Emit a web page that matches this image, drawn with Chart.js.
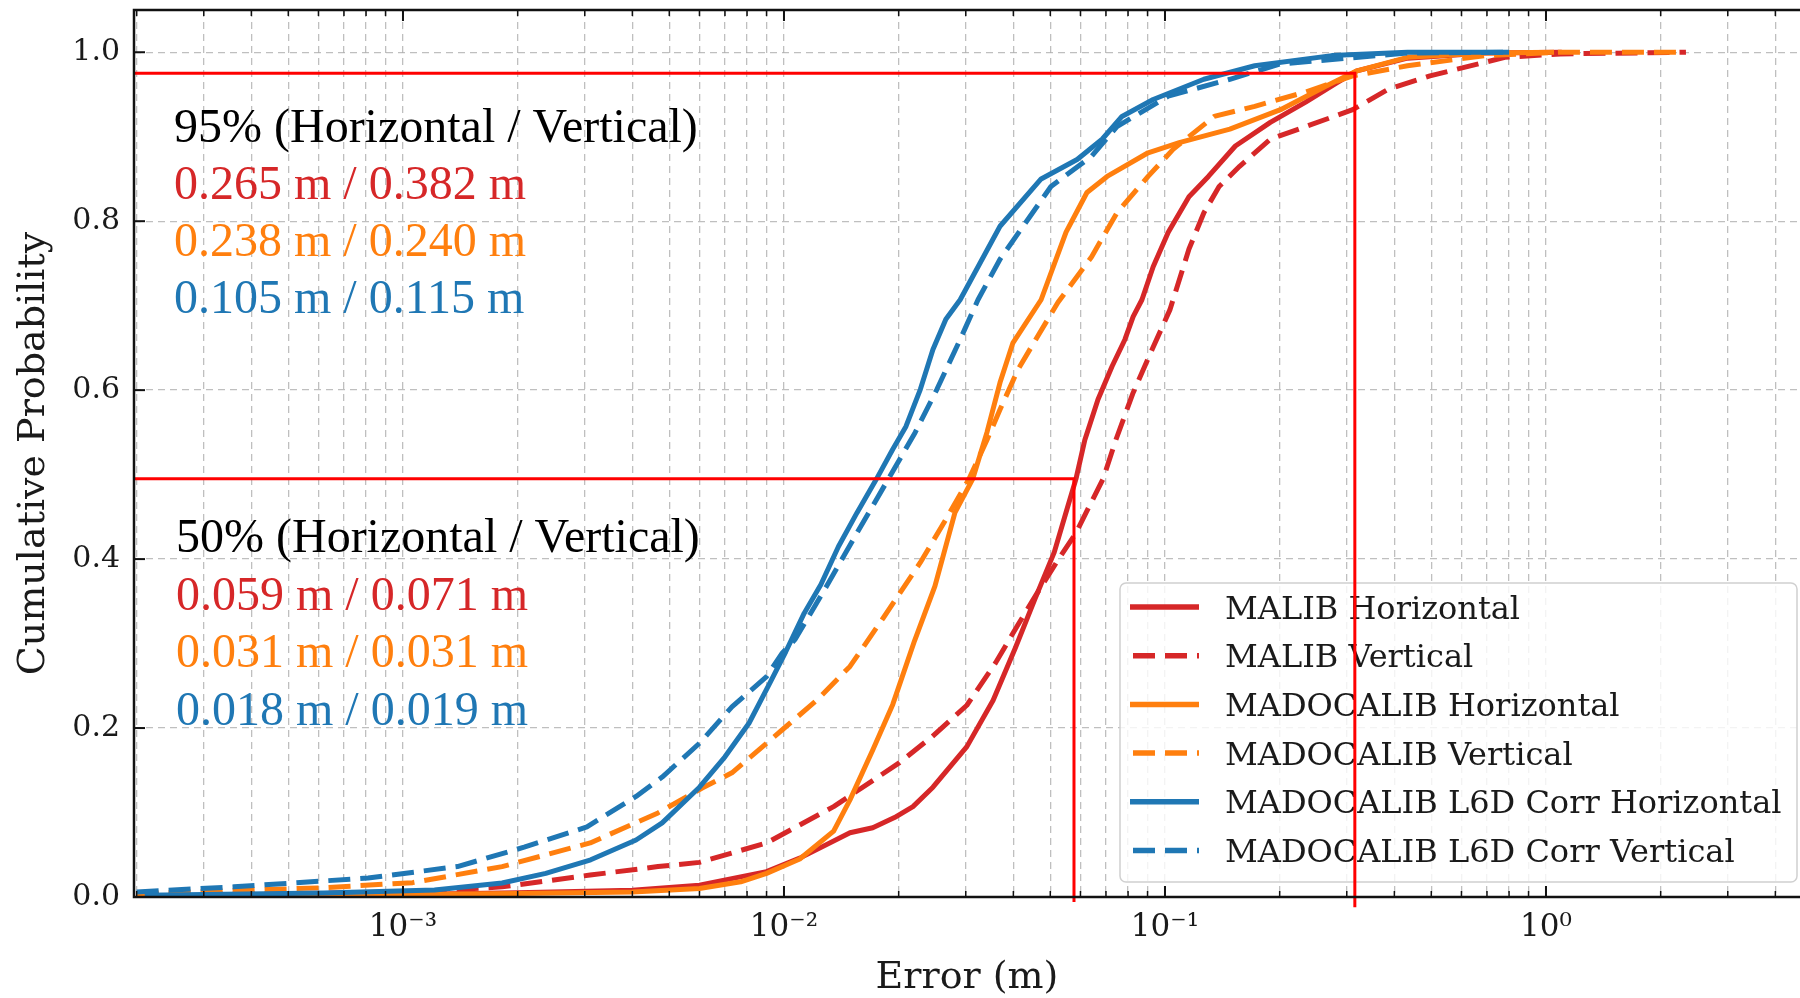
<!DOCTYPE html>
<html>
<head>
<meta charset="utf-8">
<script src="https://cdn.jsdelivr.net/npm/chart.js@4.4.0/dist/chart.umd.min.js"></script>
<style>
  html, body { margin: 0; padding: 0; background: #fff; overflow: hidden; }
  canvas { display: block; }
</style>
</head>
<body>
<canvas id="graficoCDF" width="1800" height="998"></canvas>
<script>
// ================= DATOS =================
const malibHorErr  = [2e-4, 5e-4, 1e-3, 2e-3, 4e-3, 6e-3, 9e-3, 0.011, 0.0149, 0.0171, 0.0195, 0.0218, 0.0246, 0.0302, 0.0354, 0.0405, 0.0455, 0.0512, 0.0553, 0.0584, 0.0616, 0.0667, 0.0726, 0.0785, 0.0825, 0.087, 0.0931, 0.102, 0.1156, 0.130, 0.153, 0.189, 0.234, 0.283, 0.319, 0.433, 0.69, 1.1];
const malibHorProb = [0.001, 0.002, 0.003, 0.005, 0.008, 0.014, 0.030, 0.046, 0.076, 0.082, 0.094, 0.107, 0.130, 0.178, 0.233, 0.295, 0.352, 0.408, 0.459, 0.495, 0.541, 0.589, 0.628, 0.660, 0.687, 0.707, 0.746, 0.787, 0.829, 0.853, 0.889, 0.917, 0.941, 0.964, 0.978, 0.993, 0.999, 1.0];

const malibVerErr  = [2e-4, 5e-4, 1.06e-3, 1.82e-3, 3.1e-3, 4.67e-3, 6e-3, 9e-3, 0.0135, 0.0201, 0.0245, 0.0302, 0.0359, 0.0411, 0.0458, 0.0524, 0.0584, 0.0632, 0.0688, 0.0743, 0.0825, 0.0925, 0.103, 0.1156, 0.1265, 0.1387, 0.157, 0.189, 0.234, 0.311, 0.385, 0.496, 0.78, 1.09, 2.33];
const malibVerProb = [0.003, 0.004, 0.006, 0.012, 0.026, 0.036, 0.041, 0.064, 0.107, 0.159, 0.190, 0.227, 0.277, 0.322, 0.357, 0.399, 0.431, 0.462, 0.495, 0.541, 0.597, 0.648, 0.695, 0.767, 0.810, 0.841, 0.865, 0.897, 0.912, 0.932, 0.956, 0.972, 0.994, 0.998, 1.0];

const madocaHorErr  = [2e-4, 5e-4, 1e-3, 2e-3, 4e-3, 6e-3, 7.7e-3, 9e-3, 0.011, 0.0135, 0.0149, 0.0171, 0.0193, 0.022, 0.0249, 0.0281, 0.0313, 0.0341, 0.0369, 0.0399, 0.0473, 0.055, 0.0624, 0.0705, 0.0903, 0.109, 0.148, 0.201, 0.265, 0.319, 0.433, 0.69, 1.05];
const madocaHorProb = [0.0, 0.001, 0.003, 0.004, 0.006, 0.010, 0.018, 0.028, 0.045, 0.078, 0.115, 0.174, 0.228, 0.303, 0.368, 0.455, 0.495, 0.550, 0.609, 0.656, 0.707, 0.787, 0.834, 0.853, 0.881, 0.893, 0.909, 0.932, 0.960, 0.978, 0.994, 0.999, 1.0];

const madocaVerErr  = [2e-4, 6.2e-4, 1.06e-3, 1.82e-3, 3.1e-3, 4.67e-3, 6.1e-3, 7.3e-3, 9.9e-3, 0.0122, 0.0149, 0.0182, 0.0228, 0.0266, 0.0306, 0.0341, 0.0369, 0.0411, 0.0458, 0.0524, 0.0642, 0.0748, 0.0903, 0.105, 0.1346, 0.172, 0.234, 0.311, 0.433, 0.69, 1.09, 2.33];
const madocaVerProb = [0.004, 0.011, 0.017, 0.036, 0.064, 0.0995, 0.129, 0.147, 0.198, 0.233, 0.273, 0.330, 0.396, 0.447, 0.495, 0.541, 0.577, 0.624, 0.660, 0.704, 0.758, 0.810, 0.853, 0.885, 0.924, 0.936, 0.953, 0.972, 0.984, 0.996, 1.0, 1.0];

const l6dHorErr  = [2.1e-4, 6.2e-4, 1.21e-3, 1.82e-3, 2.37e-3, 3.11e-3, 4.09e-3, 4.79e-3, 6e-3, 7e-3, 8.1e-3, 9.2e-3, 0.0101, 0.0113, 0.0125, 0.0139, 0.01555, 0.0175, 0.0193, 0.0209, 0.0228, 0.0246, 0.0266, 0.029, 0.0369, 0.0473, 0.0588, 0.0684, 0.0771, 0.0931, 0.1265, 0.172, 0.274, 0.433, 0.8];
const l6dHorProb = [0.002, 0.0047, 0.0083, 0.0166, 0.028, 0.044, 0.0675, 0.0877, 0.130, 0.166, 0.206, 0.254, 0.290, 0.336, 0.370, 0.415, 0.455, 0.495, 0.530, 0.557, 0.601, 0.648, 0.684, 0.707, 0.794, 0.850, 0.873, 0.897, 0.924, 0.944, 0.968, 0.984, 0.996, 1.0, 1.0];

const l6dVerErr  = [2e-4, 3.6e-4, 8.1e-4, 1.39e-3, 2.08e-3, 3.04e-3, 4.09e-3, 4.79e-3, 6e-3, 7.3e-3, 9e-3, 0.0099, 0.0107, 0.0129, 0.01555, 0.0188, 0.0221, 0.0252, 0.029, 0.0323, 0.0369, 0.0502, 0.0642, 0.0748, 0.102, 0.148, 0.2, 0.433, 0.8];
const l6dVerProb = [0.006, 0.012, 0.0225, 0.036, 0.059, 0.083, 0.119, 0.142, 0.182, 0.225, 0.261, 0.289, 0.305, 0.367, 0.431, 0.495, 0.550, 0.601, 0.660, 0.707, 0.755, 0.841, 0.877, 0.912, 0.948, 0.968, 0.986, 0.999, 1.0];

const etiquetas = ["MALIB Horizontal", "MALIB Vertical", "MADOCALIB Horizontal", "MADOCALIB Vertical", "MADOCALIB L6D Corr Horizontal", "MADOCALIB L6D Corr Vertical"];

// ejes
const xLimites = [1.968e-4, 4.642];
const yLimites = [0, 1.05];
const xDecadas = [-4, -3, -2, -1, 0];
const yTicks = [0, 0.2, 0.4, 0.6, 0.8, 1.0];

// lineas de referencia (95% y 50%)
const refProb = [0.975, 0.495];
const refErr = [0.315, 0.0577];
const refFondo = [-0.012, -0.006];

// textos
const texto95 = ["95% (Horizontal / Vertical)", "0.265 m / 0.382 m", "0.238 m / 0.240 m", "0.105 m / 0.115 m"];
const texto50 = ["50% (Horizontal / Vertical)", "0.059 m / 0.071 m", "0.031 m / 0.031 m", "0.018 m / 0.019 m"];

// ================= ESTILO =================
const ROJO = "#d62728", NARANJA = "#ff7f0e", AZUL = "#1f77b4";
const colorTexto = ["#000000", ROJO, NARANJA, AZUL];
const FUENTE = "'DejaVu Serif', serif";
const FUENTE_TXT = "'Liberation Serif', 'Times New Roman', serif";
const GRIS = "rgba(175,175,175,0.8)";
const DASH = [22, 10];

// ================= FUNCIONES UTILES =================
function puntos(xs, ys) {
  return xs.map((x, i) => ({ x, y: ys[i] }));
}

function serie(label, xs, ys, color, punteada, orden) {
  return {
    label,
    data: puntos(xs, ys),
    borderColor: color,
    backgroundColor: color,
    borderWidth: 5,
    borderDash: punteada ? DASH : [],
    borderJoinStyle: "round",
    pointRadius: 0,
    tension: 0,
    fill: false,
    order: orden,
    enLeyenda: true
  };
}

function refLinea(i) {
  return {
    label: "ref" + i,
    data: [
      { x: xLimites[0], y: refProb[i] },
      { x: refErr[i], y: refProb[i] },
      { x: refErr[i], y: refFondo[i] }
    ],
    borderColor: "#ff0000",
    borderWidth: 3,
    pointRadius: 0,
    tension: 0,
    clip: false,
    order: 0,
    enLeyenda: false
  };
}

const SUP = { "-": "\u207B", "0": "\u2070", "1": "\u00B9", "2": "\u00B2", "3": "\u00B3", "4": "\u2074" };
function potencia(v) {
  const e = Math.log10(v);
  if (Math.abs(e - Math.round(e)) > 1e-6) return "";
  return "10" + String(Math.round(e)).split("").map(c => SUP[c]).join("");
}

// ================= PLUGINS =================
const leyendaPlugin = {
  id: "leyenda",
  beforeDatasetsDraw(chart) {
    const ctx = chart.ctx;
    const items = chart.data.datasets.filter(d => d.enLeyenda);
    const a = chart.chartArea;
    const x0 = a.left + 986, y0 = 583, w = 677, h = 299;
    ctx.save();
    ctx.beginPath();
    ctx.roundRect(x0, y0, w, h, 6);
    ctx.fillStyle = "rgba(255,255,255,0.82)";
    ctx.fill();
    ctx.strokeStyle = "#d0d0d0";
    ctx.lineWidth = 1.5;
    ctx.stroke();
    items.forEach((d, i) => {
      const yy = y0 + 24 + i * 48.7;
      ctx.beginPath();
      ctx.setLineDash(d.borderDash);
      ctx.lineDashOffset = d.borderDash.length ? -3 : 0;
      ctx.strokeStyle = d.borderColor;
      ctx.lineWidth = 5.5;
      ctx.moveTo(x0 + 10, yy);
      ctx.lineTo(x0 + 79, yy);
      ctx.stroke();
      ctx.setLineDash([]);
      ctx.fillStyle = "#1a1a1a";
      ctx.font = "32px " + FUENTE;
      ctx.textBaseline = "alphabetic";
      ctx.textAlign = "left";
      ctx.fillText(d.label, x0 + 105, yy + 11.5);
    });
    ctx.restore();
  }
};

const marcoPlugin = {
  id: "marco",
  afterDatasetsDraw(chart) {
    const { ctx, chartArea: a, scales: { x, y } } = chart;
    ctx.save();
    // bloques de texto
    ctx.font = "48px " + FUENTE_TXT;
    ctx.textAlign = "left";
    ctx.textBaseline = "alphabetic";
    texto95.forEach((t, i) => {
      ctx.fillStyle = colorTexto[i];
      ctx.fillText(t, a.left + 40, 142 + i * 57);
    });
    texto50.forEach((t, i) => {
      ctx.fillStyle = colorTexto[i];
      ctx.fillText(t, a.left + 42, 552 + i * 57.7);
    });

    // ejes
    ctx.strokeStyle = "#111";
    ctx.lineWidth = 2.5;
    ctx.beginPath();
    ctx.moveTo(a.right, a.top);
    ctx.lineTo(a.left, a.top);
    ctx.lineTo(a.left, a.bottom);
    ctx.lineTo(a.right, a.bottom);
    ctx.stroke();

    // ticks hacia adentro
    x.ticks.forEach(t => {
      const px = x.getPixelForValue(t.value);
      const largo = t.major ? 11 : 6;
      ctx.lineWidth = t.major ? 2 : 1.5;
      ctx.beginPath();
      ctx.moveTo(px, a.bottom);
      ctx.lineTo(px, a.bottom - largo);
      ctx.moveTo(px, a.top);
      ctx.lineTo(px, a.top + largo);
      ctx.stroke();
    });
    y.ticks.forEach(t => {
      const py = y.getPixelForValue(t.value);
      ctx.lineWidth = 2;
      ctx.beginPath();
      ctx.moveTo(a.left, py);
      ctx.lineTo(a.left + 11, py);
      ctx.stroke();
    });
    ctx.restore();
  }
};

// ================= GRAFICO =================
const datasets = [
  serie(etiquetas[0], malibHorErr, malibHorProb, ROJO, false, 6),
  serie(etiquetas[1], malibVerErr, malibVerProb, ROJO, true, 5),
  serie(etiquetas[2], madocaHorErr, madocaHorProb, NARANJA, false, 4),
  serie(etiquetas[3], madocaVerErr, madocaVerProb, NARANJA, true, 3),
  serie(etiquetas[4], l6dHorErr, l6dHorProb, AZUL, false, 2),
  serie(etiquetas[5], l6dVerErr, l6dVerProb, AZUL, true, 1),
  refLinea(0),
  refLinea(1)
];

new Chart(document.getElementById("graficoCDF").getContext("2d"), {
  type: "line",
  data: { datasets },
  options: {
    responsive: false,
    animation: false,
    events: [],
    layout: { padding: { top: 10, right: 0, bottom: 0, left: 0 } },
    plugins: { legend: { display: false }, tooltip: { enabled: false } },
    scales: {
      x: {
        type: "logarithmic",
        position: "bottom",
        min: xLimites[0],
        max: xLimites[1],
        afterBuildTicks: scale => {
          const t = [];
          xDecadas.forEach(e => {
            for (let m = 1; m <= 9; m++) {
              const v = m * Math.pow(10, e);
              if (v >= xLimites[0] && v <= xLimites[1]) t.push({ value: v, major: m === 1 });
            }
          });
          scale.ticks = t;
        },
        afterFit: scale => {
          scale.height = 101;
          scale.paddingLeft = 0;
          scale.paddingRight = 0;
        },
        ticks: {
          autoSkip: false,
          maxRotation: 0,
          padding: 12,
          color: "#1a1a1a",
          font: { family: FUENTE, size: 31 },
          callback: v => potencia(v)
        },
        grid: { color: GRIS, lineWidth: 1.3, drawTicks: false },
        border: { display: false, dash: [7, 5] },
        title: {
          display: true,
          text: "Error (m)",
          color: "#1a1a1a",
          font: { family: FUENTE, size: 38, lineHeight: 1 },
          padding: { top: 0, bottom: 1 }
        }
      },
      y: {
        type: "linear",
        min: yLimites[0],
        max: yLimites[1],
        afterBuildTicks: scale => { scale.ticks = yTicks.map(v => ({ value: v })); },
        afterFit: scale => {
          scale.width = 134;
          scale.paddingTop = 0;
          scale.paddingBottom = 0;
        },
        ticks: {
          padding: 14,
          color: "#1a1a1a",
          font: { family: FUENTE, size: 30 },
          callback: v => v.toFixed(1)
        },
        grid: { color: GRIS, lineWidth: 1.3, drawTicks: false },
        border: { display: false, dash: [7, 5] },
        title: {
          display: true,
          text: "Cumulative Probability",
          color: "#1a1a1a",
          font: { family: FUENTE, size: 38, lineHeight: 1 },
          padding: { top: 15, bottom: 0 }
        }
      }
    }
  },
  plugins: [leyendaPlugin, marcoPlugin]
});
</script>
</body>
</html>
